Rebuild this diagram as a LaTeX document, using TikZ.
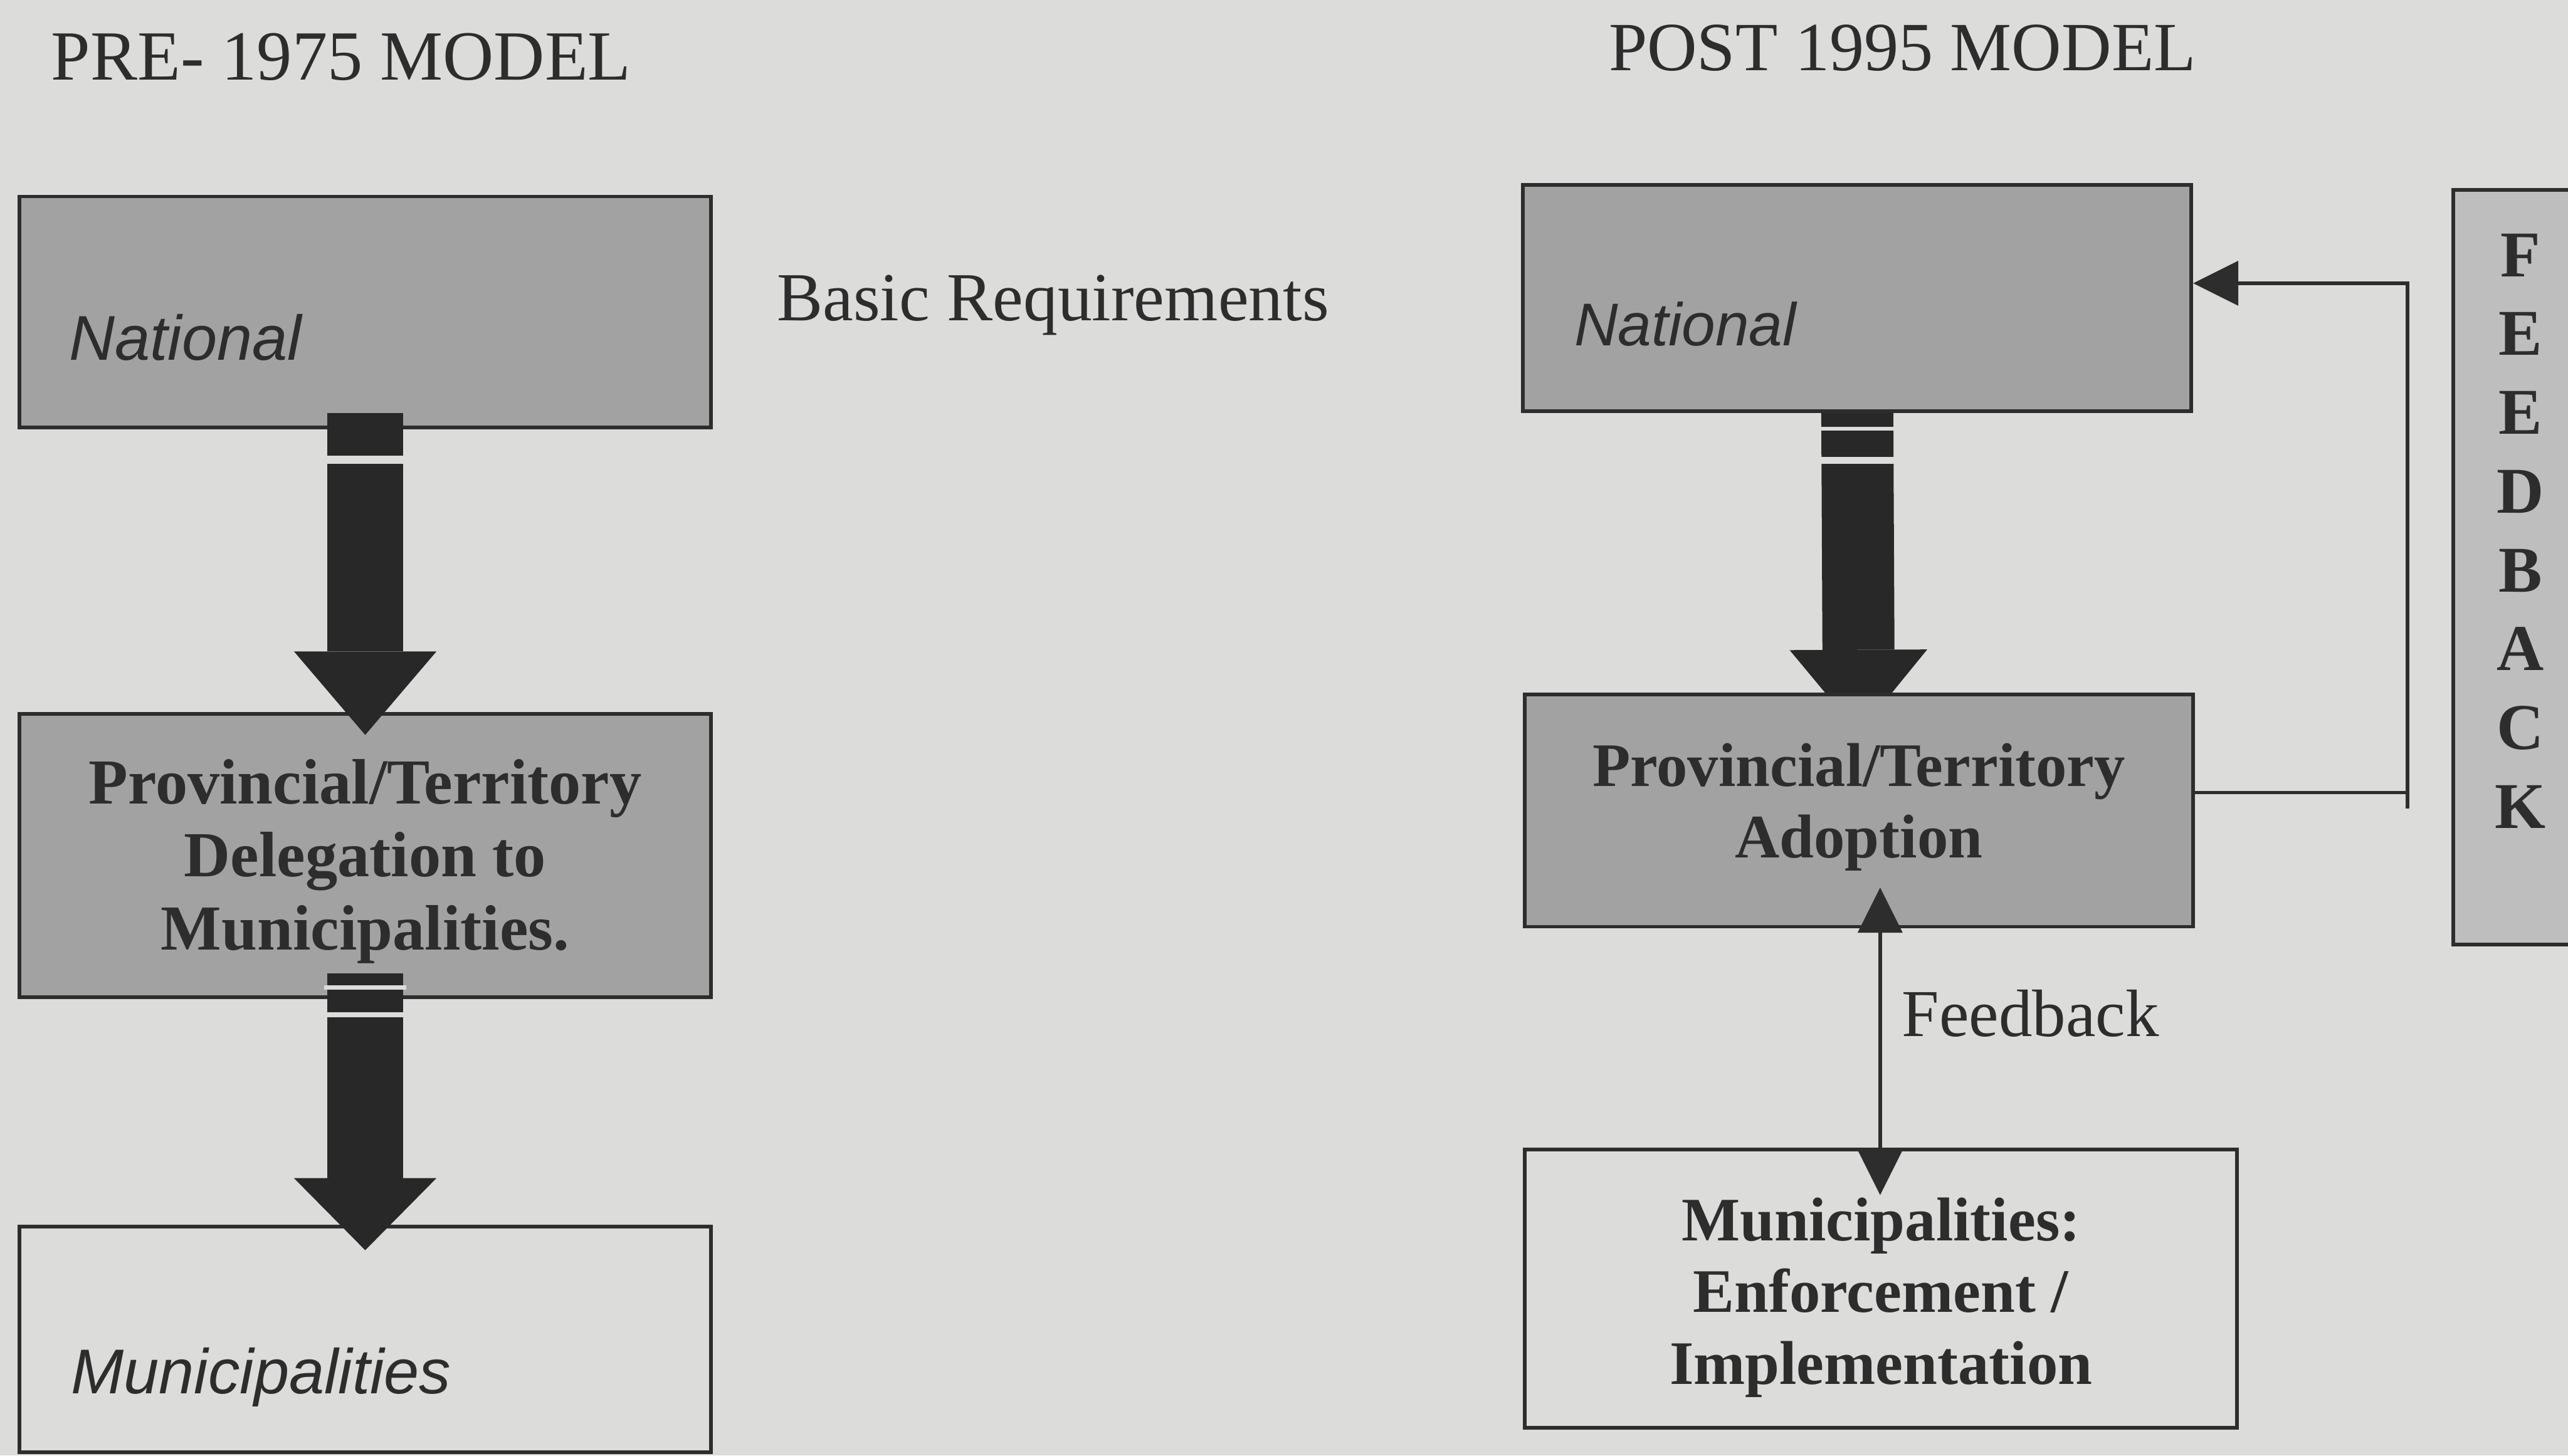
\documentclass[tikz,border=0pt]{standalone}
\usepackage{fontspec}
\setmainfont{Liberation Serif}
\newfontfamily\labelsans{Liberation Sans}
\usetikzlibrary{arrows.meta,calc}
\pgfdeclarelayer{paper}
\pgfdeclarelayer{under}
\pgfsetlayers{paper,under,main}

\definecolor{paper}{RGB}{220,220,219}
\definecolor{boxgray}{RGB}{162,162,162}
\definecolor{panelgray}{RGB}{190,190,190}
\definecolor{ink}{RGB}{45,45,45}
\definecolor{shaftdark}{RGB}{40,40,40}

\begin{document}
\begin{tikzpicture}[x=0.2mm,y=-0.2mm,
  box/.style={draw=ink, line width=0.45mm, rectangle, inner sep=0pt},
  shaded/.style={box, fill=boxgray},
  boxtext/.style={font=\fontsize{21.5}{25}\selectfont\bfseries, text=ink,
    align=center, inner sep=0pt},
  slanttext/.style={font=\labelsans\itshape\fontsize{22}{26}\selectfont,
    text=ink, anchor=base west, inner sep=0pt},
  serifcap/.style={font=\fontsize{24.5}{29}\selectfont, text=ink,
    anchor=base west, inner sep=0pt},
  fat/.style={draw=shaftdark, line width=9.2mm,
    -{Triangle[length=10.2mm,width=17.4mm,line width=0pt]}},
  stripe/.style={draw=paper, line width=#1},
  conn/.style={draw=ink, line width=0.4mm},
  >={Triangle[length=5.5mm,width=5.5mm,line width=0pt]}
]
% page and its background
\useasboundingbox (0,0) rectangle (1568,889);
\begin{pgfonlayer}{paper}
  \fill[paper] (0,0) rectangle (1568,889);
\end{pgfonlayer}

% ---------- titles ----------
\node[serifcap] (pretitle) at (31,49) {PRE- 1975 MODEL};
\node[serifcap, font=\fontsize{24}{29}\selectfont] (posttitle) at (982,43) {POST 1995 MODEL};
\node[serifcap, font=\fontsize{23.9}{29}\selectfont] (basicreq) at (474,196) {Basic Requirements};

% ---------- pre-1975 column ----------
\node[shaded, minimum width=84.4mm, minimum height=28.2mm] (lnat) at (223,190.5) {};
\node[slanttext] (lnatlabel) at (42,220) {National};

\node[shaded, minimum width=84.4mm, minimum height=34.6mm] (lprov) at (223,522.5) {};
\node[boxtext, font=\fontsize{22.3}{25.4}\selectfont\bfseries] (lprovtext)
  at ($(lprov.center)+(0,3.5)$) {Provincial/Territory\\Delegation to\\Municipalities.};

\node[box, minimum width=84.4mm, minimum height=27.6mm] (lmuni) at (223,818) {};
\node[slanttext] (lmunilabel) at (43,851) {Municipalities};

% heavy downward arrows
\draw[fat] ($(lnat.south)+(0,-10)$) -- ($(lprov.north)+(0,14)$);
\draw[stripe=1mm] ($(lnat.south)+(-25,18.5)$) -- ++(50,0);

\draw[fat, -{Triangle[length=8.8mm,width=17.4mm,line width=0pt]}]
  ($(lprov.south)+(0,-15.5)$) -- ($(lmuni.north)+(0,15.7)$);
\draw[stripe=0.5mm] ($(lprov.south)+(-25,-7)$) -- ++(50,0);
\draw[stripe=0.6mm] ($(lprov.south)+(-25,9.5)$) -- ++(50,0);

% ---------- post-1995 column ----------
\node[shaded, minimum width=81.6mm, minimum height=27.6mm] (rnat) at (1134,182) {};
\node[slanttext, font=\labelsans\itshape\fontsize{21}{25}\selectfont] (rnatlabel) at (961,211) {National};

\node[shaded, minimum width=81.6mm, minimum height=28.4mm] (rprov) at (1135,495) {};
\node[boxtext] (rprovtext) at ($(rprov.center)+(0,-2)$) {Provincial/Territory\\Adoption};

\node[box, minimum width=87mm, minimum height=34mm] (rmuni) at (1148.5,787) {};
\node[boxtext] (rmunitext) at ($(rmuni.center)+(0,5.5)$)
  {Municipalities:\\Enforcement /\\Implementation};

% heavy arrow, partly hidden behind the boxes
\begin{pgfonlayer}{under}
  \draw[fat, line width=8.8mm, -{Triangle[length=10.2mm,width=16.8mm,line width=0pt]}]
    ($(rnat.south)+(0,-5)$) -- ($(rprov.north)+(0,25)$);
  \draw[stripe=0.5mm] ($(rnat.south)+(-24,9.7)$) -- ++(48,0);
  \draw[stripe=0.8mm] ($(rnat.south)+(-24,29)$) -- ++(48,0);
\end{pgfonlayer}

% feedback loop back to the national level
\coordinate (fbturn) at (1470,173);
\coordinate (fbstub) at (1470,494);
\draw[conn, ->] ($(rprov.east)+(0,-11)$) -| (fbturn) -- (fbturn -| rnat.east);
\draw[conn] (fbturn) -- (fbstub);

% two-way feedback between province and municipalities
\coordinate (fbx) at (1148,0);
\draw[conn, <->] ($(rprov.south -| fbx)+(0,-25)$) -- ($(rmuni.north -| fbx)+(0,29)$);
\node[serifcap, font=\fontsize{23.3}{28}\selectfont] (fblabel) at (1161,633) {Feedback};

% vertical FEEDBACK panel at the right edge
\node[box, fill=panelgray, minimum width=16.4mm, minimum height=92.2mm] (fbpanel) at (1539,346.5) {};
\node[font=\fontsize{22.7}{27.4}\selectfont\bfseries, text=ink, align=center, inner sep=0pt]
  (fbword) at (1539,324.3) {F\\E\\E\\D\\B\\A\\C\\K};
\end{tikzpicture}
\end{document}
